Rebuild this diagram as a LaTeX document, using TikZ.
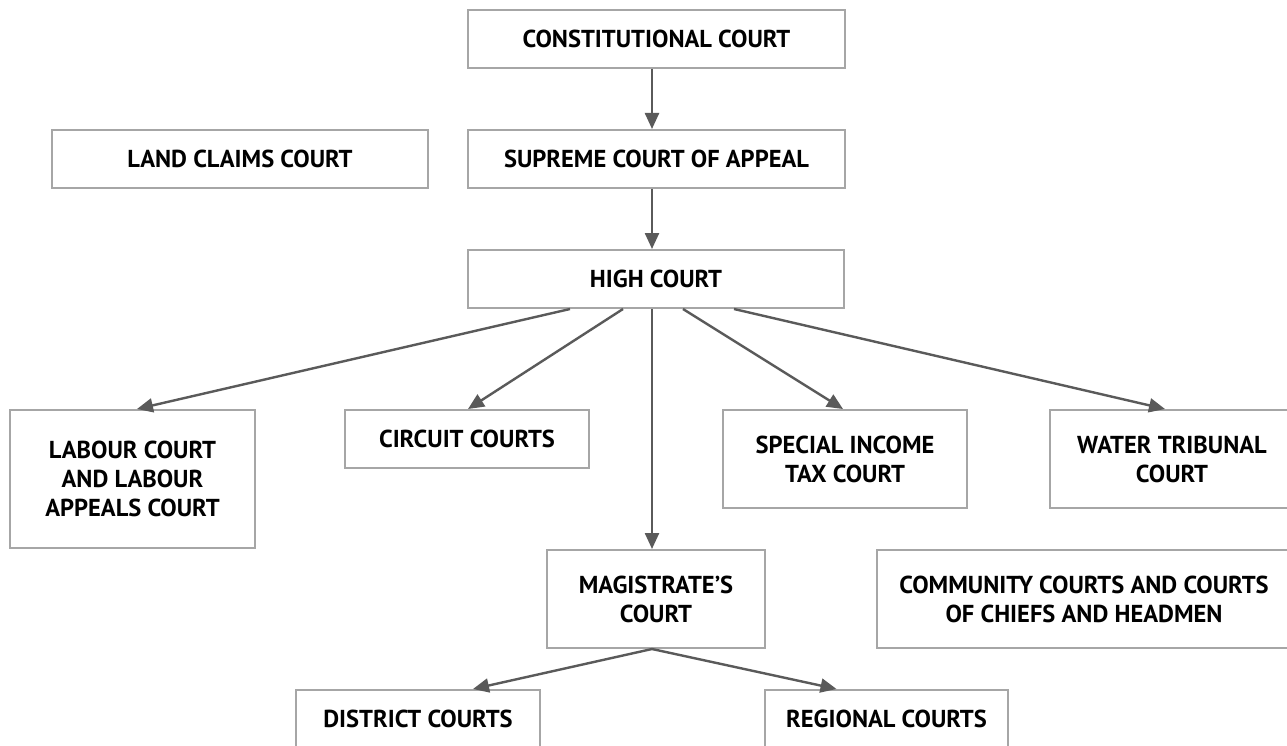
\documentclass[tikz,border=0pt]{standalone}
\usepackage{fontspec}
\newfontfamily\labelfont{PT Sans}
\usetikzlibrary{arrows.meta}
\definecolor{boxgray}{HTML}{A6A6A6}
\definecolor{arrgray}{HTML}{5A5A5A}
\tikzset{
  court/.style={draw=boxgray, line width=2pt, fill=white, inner sep=0pt, align=center,
    font=\labelfont\bfseries\fontsize{24.5}{29}\selectfont, text=black},
  arr/.style={draw=arrgray, line width=2.4pt, -{Triangle[length=16pt,width=14pt]}}
}
\begin{document}
\begin{tikzpicture}[x=1pt,y=-1pt]
\useasboundingbox (0,0) rectangle (1287,746);
\clip (0,0) rectangle (1287,746);
\fill[white] (0,0) rectangle (1287,746);

\node[court, minimum width=377pt, minimum height=58pt] (const) at (656.5,39) {CONSTITUTIONAL COURT};
\node[court, minimum width=376pt, minimum height=58pt] (land) at (240,159) {LAND CLAIMS COURT};
\node[court, minimum width=377pt, minimum height=58pt] (supreme) at (656.5,159) {SUPREME COURT OF APPEAL};
\node[court, minimum width=376pt, minimum height=58pt] (high) at (656,279) {HIGH COURT};
\node[court, minimum width=245pt, minimum height=138pt] (labour) at (132.5,479) {LABOUR COURT\\AND LABOUR\\APPEALS COURT};
\node[court, minimum width=244pt, minimum height=58pt] (circuit) at (467,439) {CIRCUIT COURTS};
\node[court, minimum width=244pt, minimum height=98pt] (special) at (845,459) {SPECIAL INCOME\\TAX COURT};
\node[court, minimum width=244pt, minimum height=98pt] (water) at (1172,459) {WATER TRIBUNAL\\COURT};
\node[court, minimum width=218pt, minimum height=98pt] (magistrate) at (656,599) {MAGISTRATE’S\\COURT};
\node[court, minimum width=414pt, minimum height=98pt] (community) at (1084,599) {COMMUNITY COURTS AND COURTS\\OF CHIEFS AND HEADMEN};
\node[court, minimum width=244pt, minimum height=58pt] (district) at (418,719) {DISTRICT COURTS};
\node[court, minimum width=243pt, minimum height=58pt] (regional) at (886.5,719) {REGIONAL COURTS};

\draw[arr] ([xshift=-4.5pt]const.south) -- ([xshift=-4.5pt]supreme.north);
\draw[arr] ([xshift=-4.5pt]supreme.south) -- ([xshift=-4pt]high.north);
\draw[arr] ([xshift=-86pt]high.south) -- ([xshift=4.5pt]labour.north);
\draw[arr] ([xshift=-33pt]high.south) -- ([xshift=1pt]circuit.north);
\draw[arr] ([xshift=-4pt]high.south) -- ([xshift=-4pt]magistrate.north);
\draw[arr] ([xshift=27pt]high.south) -- ([xshift=-2pt]special.north);
\draw[arr] ([xshift=78pt]high.south) -- ([xshift=-7pt]water.north);
\draw[arr] ([xshift=-4pt]magistrate.south) -- ([xshift=55pt]district.north);
\draw[arr] ([xshift=-4pt]magistrate.south) -- ([xshift=-50pt]regional.north);
\end{tikzpicture}
\end{document}
